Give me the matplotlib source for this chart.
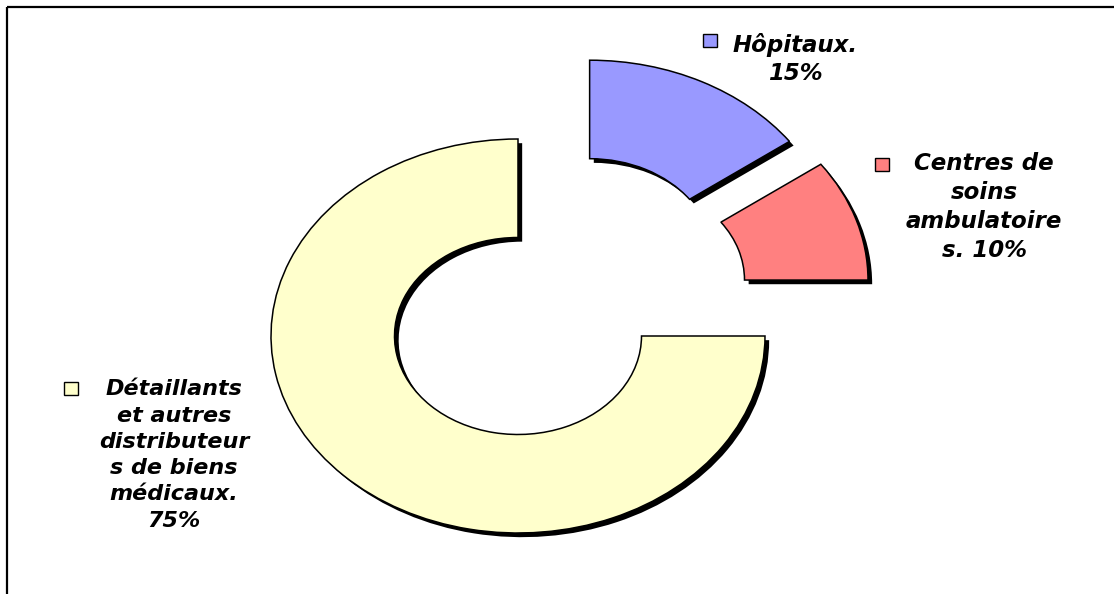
import matplotlib.pyplot as plt
import matplotlib.patheffects as pe
from matplotlib.patches import Rectangle

# data
labels = ['Hôpitaux.\n15%',
          'Centres de\nsoins\nambulatoire\ns. 10%',
          'Détaillants\net autres\ndistributeur\ns de biens\nmédicaux.\n75%']
shares = [15, 10, 75]
colors = ['#9999FF', '#FF8080', '#FFFFCC']

# layout (pixels)
W, H = 1114, 594
cx, cy = 518, 336          # donut centre
rx, ry = 247, 197          # outer radii (stretched ellipse)
offsets = [(0.29, 0.40), (0.417, 0.284), (0.0, 0.0)]   # exploded slices
label_pos = [(795, 59), (984, 207), (174, 455)]
key_pos = [(703, 34), (875, 158), (64, 382)]
fsizes = [16.5, 16.5, 16]
lspace = [1.3, 1.33, 1.39]

fig = plt.figure(figsize=(W / 100, H / 100), dpi=100)
ax = fig.add_axes([0, 0, 1, 1])

wedges, _ = ax.pie(shares, colors=colors, startangle=90, counterclock=False,
                   wedgeprops=dict(width=0.5, edgecolor='black', linewidth=1.1))
shadow = [pe.SimplePatchShadow(offset=(3, -3), shadow_rgbFace='black', alpha=1.0),
          pe.Normal()]
for w, off in zip(wedges, offsets):
    w.set_center(off)
    w.set_path_effects(shadow)

ax.set_aspect('auto')
ax.set_xlim(-cx / rx, (W - cx) / rx)
ax.set_ylim(-(H - cy) / ry, cy / ry)
ax.axis('off')

# overlay in pixel coordinates for labels and frame
ov = fig.add_axes([0, 0, 1, 1], facecolor='none')
ov.set_xlim(0, W)
ov.set_ylim(H, 0)
ov.axis('off')

for lab, (x, y), (kx, ky), c, fs, ls in zip(labels, label_pos, key_pos, colors, fsizes, lspace):
    ov.text(x, y, lab, ha='center', va='center', fontsize=fs,
            fontweight='bold', fontstyle='italic', family='DejaVu Sans',
            linespacing=ls, multialignment='center')
    ov.add_patch(Rectangle((kx, ky), 14, 13, facecolor=c, edgecolor='black', lw=1.0))

ov.plot([7, W], [7, 7], color='black', lw=1.6, solid_capstyle='butt')
ov.plot([7, 7], [7, H], color='black', lw=1.6, solid_capstyle='butt')

fig.savefig('out.png', dpi=100)
